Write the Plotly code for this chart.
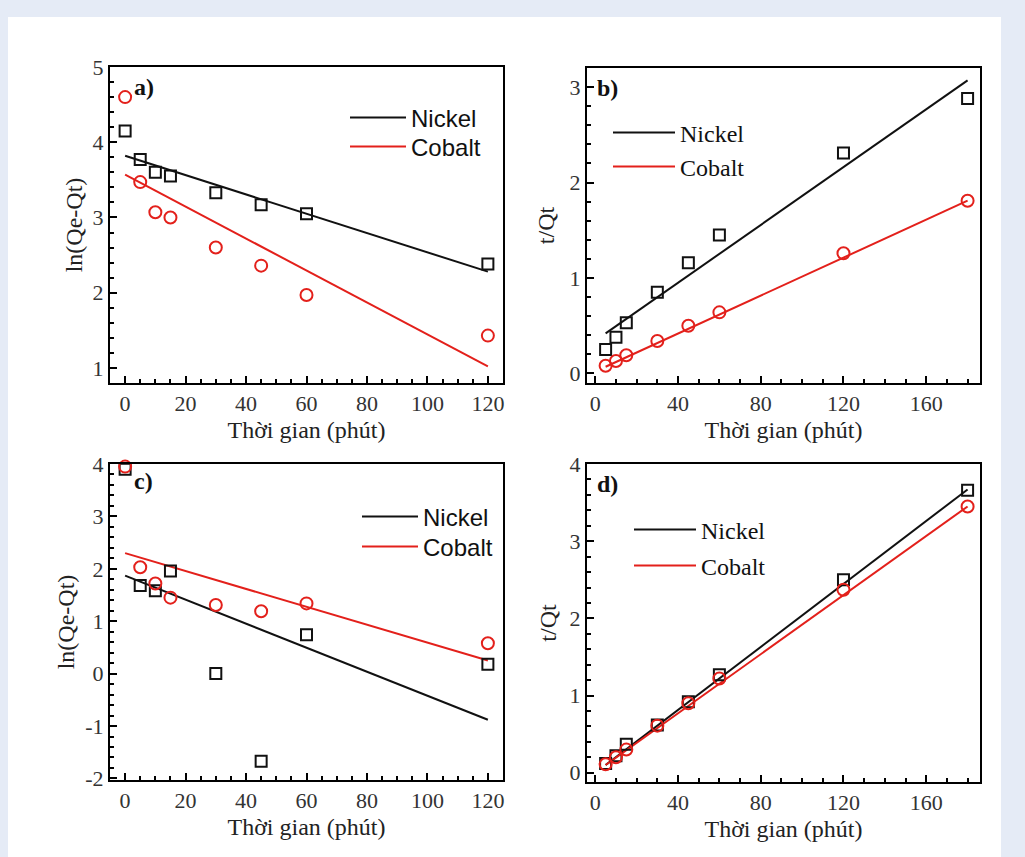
import plotly.graph_objects as go

# ---------------- data ----------------
t_a = [0, 5, 10, 15, 30, 45, 60, 120]
ni_a = [4.15, 3.77, 3.60, 3.55, 3.33, 3.17, 3.05, 2.38]
co_a = [4.60, 3.47, 3.07, 3.00, 2.60, 2.36, 1.97, 1.43]
fit_x_a = [0, 120]
ni_fit_a = [3.82, 2.28]
co_fit_a = [3.57, 1.02]

t_b = [5, 10, 15, 30, 45, 60, 120, 180]
ni_b = [0.25, 0.38, 0.53, 0.85, 1.16, 1.45, 2.31, 2.88]
co_b = [0.08, 0.13, 0.19, 0.34, 0.50, 0.64, 1.26, 1.81]
fit_x_b = [5, 180]
ni_fit_b = [0.42, 3.07]
co_fit_b = [0.07, 1.81]

t_c = [0, 5, 10, 15, 30, 45, 60, 120]
ni_c = [3.90, 1.68, 1.58, 1.96, 0.00, -1.67, 0.74, 0.18]
co_c = [3.95, 2.03, 1.72, 1.45, 1.31, 1.19, 1.34, 0.58]
fit_x_c = [0, 120]
ni_fit_c = [1.87, -0.88]
co_fit_c = [2.30, 0.25]

t_d = [5, 10, 15, 30, 45, 60, 120, 180]
ni_d = [0.12, 0.22, 0.37, 0.62, 0.92, 1.27, 2.50, 3.66]
co_d = [0.11, 0.20, 0.30, 0.61, 0.90, 1.22, 2.37, 3.45]
fit_x_d = [5, 180]
ni_fit_d = [0.10, 3.67]
co_fit_d = [0.10, 3.45]

series_names = ["Nickel", "Cobalt"]
panel_labels = ["a)", "b)", "c)", "d)"]
x_title = "Thời gian (phút)"
y_titles = ["ln(Qe-Qt)", "t/Qt", "ln(Qe-Qt)", "t/Qt"]

xticks_short = [0, 20, 40, 60, 80, 100, 120]
xticks_long = [0, 40, 80, 120, 160]
yticks_a = [1, 2, 3, 4, 5]
yticks_b = [0, 1, 2, 3]
yticks_c = [-2, -1, 0, 1, 2, 3, 4]
yticks_c_text = ["-2", "-1", "0", "1", "2", "3", "4"]
yticks_d = [0, 1, 2, 3, 4]

# ---------------- style ----------------
BLACK = "#111111"
RED = "#e3201b"
SERIF = "Liberation Serif, Times New Roman, serif"
SANS = "Liberation Sans, Arial, sans-serif"
W, H = 1025, 857

fig = go.Figure()

panels = [
    (t_a, ni_a, co_a, fit_x_a, ni_fit_a, co_fit_a),
    (t_b, ni_b, co_b, fit_x_b, ni_fit_b, co_fit_b),
    (t_c, ni_c, co_c, fit_x_c, ni_fit_c, co_fit_c),
    (t_d, ni_d, co_d, fit_x_d, ni_fit_d, co_fit_d),
]

# one legend per item: (line start px, Nickel centre y px, Cobalt centre y px, font, itemwidth)
leg_geom = [
    (350, 118, 147, SANS, 56),
    (613, 133, 167, SERIF, 62),
    (362, 517, 547, SANS, 56),
    (634, 530, 566, SERIF, 62),
]

leg_layout = {}
for i, (t, ni, co, fx, nif, cof) in enumerate(panels):
    xa = "x" if i == 0 else f"x{i+1}"
    ya = "y" if i == 0 else f"y{i+1}"
    lg_ni = "legend" if i == 0 else f"legend{2 * i + 1}"
    lg_co = f"legend{2 * i + 2}"
    lx, yni, yco, fam, iw = leg_geom[i]
    for lg, yy in ((lg_ni, yni), (lg_co, yco)):
        leg_layout[lg] = dict(x=(lx - 5) / W, y=1 - yy / H, xanchor="left", yanchor="middle",
                              xref="paper", yref="paper",
                              bgcolor="rgba(0,0,0,0)", borderwidth=0,
                              font=dict(family=fam, size=24, color="#111111"),
                              itemwidth=iw, tracegroupgap=0)
    fig.add_trace(go.Scatter(x=fx, y=nif, mode="lines", name=series_names[0],
                             line=dict(color=BLACK, width=2), xaxis=xa, yaxis=ya,
                             legend=lg_ni, showlegend=True))
    fig.add_trace(go.Scatter(x=fx, y=cof, mode="lines", name=series_names[1],
                             line=dict(color=RED, width=2), xaxis=xa, yaxis=ya,
                             legend=lg_co, showlegend=True))
    fig.add_trace(go.Scatter(x=t, y=ni, mode="markers", name=series_names[0],
                             marker=dict(symbol="square-open", size=11, color=BLACK,
                                         line=dict(width=2, color=BLACK)),
                             xaxis=xa, yaxis=ya, showlegend=False, cliponaxis=False))
    fig.add_trace(go.Scatter(x=t, y=co, mode="markers", name=series_names[1],
                             marker=dict(symbol="circle-open", size=12, color=RED,
                                         line=dict(width=2, color=RED)),
                             xaxis=xa, yaxis=ya, showlegend=False, cliponaxis=False))

fig.update_layout(**leg_layout)

# domains (pixels -> paper)
def xd(l, r):
    return [l / W, r / W]

def yd(top, bottom):
    return [1 - bottom / H, 1 - top / H]

geom = [
    (xd(110, 503), yd(67, 383), [-5, 125], [0.8, 5.0], xticks_short, 5, yticks_a, None, 3),
    (xd(587, 980), yd(68, 383), [-4, 186], [-0.1, 3.2], xticks_long, 10, yticks_b, None, 8),
    (xd(110, 503), yd(464, 780), [-5, 125], [-2.03, 4.0], xticks_short, 5, yticks_c, yticks_c_text, 4),
    (xd(587, 980), yd(464, 782), [-4, 186], [-0.12, 4.0], xticks_long, 10, yticks_d, None, 6),
]

tickfont = dict(family=SERIF, size=22, color="#333333")
titlefont = dict(family=SERIF, size=24, color="#222222")

layout_axes = {}
for i, (xdom, ydom, xr, yr, xtv, xmin, ytv, ytt, ystand) in enumerate(geom):
    xk = "xaxis" if i == 0 else f"xaxis{i+1}"
    yk = "yaxis" if i == 0 else f"yaxis{i+1}"
    xa = "x" if i == 0 else f"x{i+1}"
    ya = "y" if i == 0 else f"y{i+1}"
    common = dict(showgrid=False, zeroline=False, showline=True, linecolor="black",
                  linewidth=2, mirror=True, ticks="inside", ticklen=7, tickwidth=2,
                  tickcolor="black", tickfont=tickfont, automargin=False)
    layout_axes[xk] = dict(domain=xdom, range=xr, anchor=ya, tickmode="array",
                           tickvals=xtv, ticktext=[str(v) for v in xtv],
                           minor=dict(ticks="inside", ticklen=4, dtick=xmin, tick0=0,
                                      tickcolor="black", tickwidth=2, showgrid=False),
                           title=dict(text=x_title, font=titlefont, standoff=6),
                           **common)
    layout_axes[yk] = dict(domain=ydom, range=yr, anchor=xa, tickmode="array",
                           tickvals=ytv,
                           ticktext=ytt if ytt else [str(v) for v in ytv],
                           minor=dict(ticks="inside", ticklen=4, dtick=0.2, tick0=0,
                                      tickcolor="black", tickwidth=2, showgrid=False),
                           title=dict(text=y_titles[i], font=titlefont, standoff=ystand),
                           **common)

fig.update_layout(**layout_axes)

# panel labels
lab_y = [0.985, 0.985, 0.995, 0.985]
for i, lab in enumerate(panel_labels):
    xa = "x" if i == 0 else f"x{i+1}"
    ya = "y" if i == 0 else f"y{i+1}"
    fig.add_annotation(text=f"<b>{lab}</b>", xref=f"{xa} domain", yref=f"{ya} domain",
                       x=0.055 if i % 2 == 0 else 0.02, y=lab_y[i], xanchor="left", yanchor="top",
                       showarrow=False, font=dict(family=SERIF, size=24, color="#111111"))

# white card on lavender background
fig.add_shape(type="rect", xref="paper", yref="paper", x0=8 / W, x1=1001 / W,
              y0=0, y1=1 - 17 / H, fillcolor="white", line=dict(width=0), layer="below")

fig.update_layout(width=W, height=H, margin=dict(l=0, r=0, t=0, b=0, autoexpand=False),
                  paper_bgcolor="#e5ebf6", plot_bgcolor="white")

fig.write_html("out.html", config={"displayModeBar": False},
               post_script="document.body.style.margin='0';document.body.style.overflow='hidden';")
